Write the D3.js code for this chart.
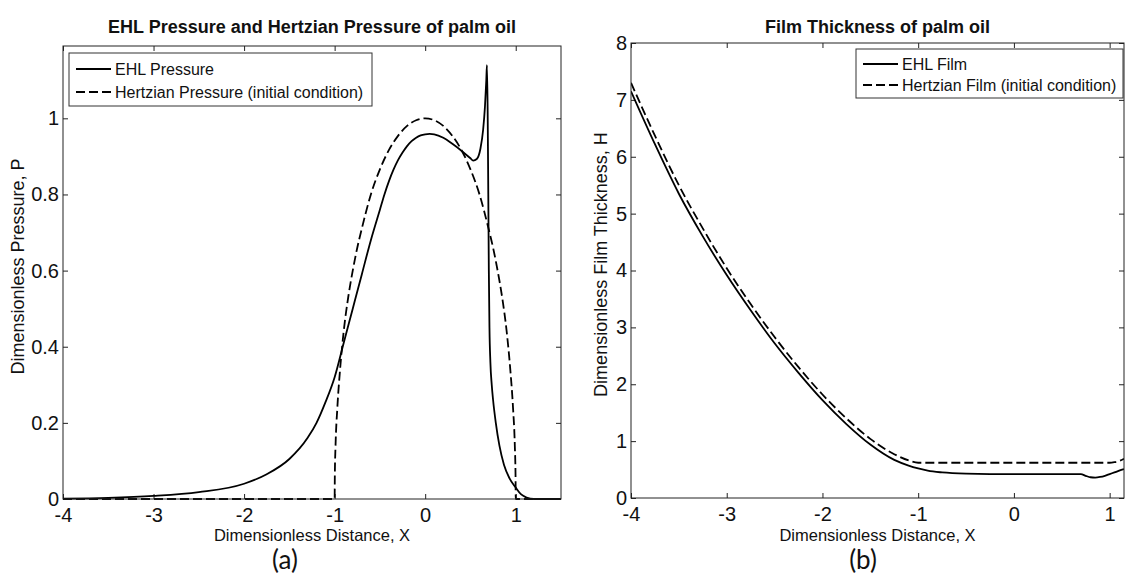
<!DOCTYPE html>
<html>
<head>
<meta charset="utf-8">
<script src="https://cdn.jsdelivr.net/npm/d3@7"></script>
<style>
  html, body { margin: 0; padding: 0; background: #fff; }
  svg { display: block; }
  text { font-family: "Liberation Sans", Arial, Helvetica, sans-serif; fill: #111; }
</style>
</head>
<body>
<div id="chart"></div>
<script>
// Data

// (a) pressure
const ehlPressureX = [-4, -3.5, -3, -2.5, -2, -1.75, -1.5, -1.3, -1.2, -1.1, -1.0, -0.9, -0.8, -0.7, -0.6, -0.5,
  -0.45, -0.4, -0.35, -0.3, -0.25, -0.2, -0.15, -0.1, -0.05, 0, 0.05, 0.1, 0.2, 0.3, 0.4, 0.5, 0.53, 0.57, 0.61,
  0.64, 0.66, 0.675, 0.682, 0.69, 0.697, 0.703, 0.71, 0.72, 0.735, 0.75, 0.78, 0.82, 0.87, 0.93, 1.0, 1.06, 1.12,
  1.2, 1.5];
const ehlPressure = [0.001, 0.003, 0.008, 0.018, 0.04, 0.065, 0.105, 0.16, 0.2, 0.255, 0.32, 0.41, 0.5, 0.59, 0.68,
  0.76, 0.8, 0.835, 0.865, 0.89, 0.91, 0.927, 0.94, 0.949, 0.955, 0.958, 0.959, 0.958, 0.949, 0.933, 0.915, 0.895,
  0.889, 0.893, 0.92, 0.97, 1.03, 1.1, 1.14, 1.02, 0.8, 0.6, 0.45, 0.36, 0.3, 0.26, 0.2, 0.14, 0.09, 0.055, 0.03,
  0.012, 0.004, 0, 0];

const hertzPressureX = [-4, -1, -0.998, -0.99, -0.97, -0.94, -0.9, -0.85, -0.8, -0.75, -0.7, -0.6, -0.5, -0.4,
  -0.3, -0.2, -0.1, 0, 0.1, 0.2, 0.3, 0.4, 0.5, 0.6, 0.7, 0.75, 0.8, 0.85, 0.9, 0.94, 0.97, 0.99, 0.998, 1, 1.5];
const hertzPressure = [0, 0, 0.06, 0.14, 0.24, 0.34, 0.44, 0.53, 0.6, 0.66, 0.71, 0.8, 0.866, 0.917, 0.954, 0.98,
  0.995, 1, 0.995, 0.98, 0.954, 0.917, 0.866, 0.8, 0.71, 0.66, 0.6, 0.53, 0.44, 0.34, 0.24, 0.14, 0.06, 0, 0];

// (b) film thickness
const ehlFilmX = [-4, -3.75, -3.5, -3.25, -3, -2.75, -2.5, -2.25, -2, -1.75, -1.5, -1.25, -1.1, -1.0, -0.9, -0.75,
  -0.5, 0, 0.5, 0.7, 0.75, 0.8, 0.85, 0.9, 0.95, 1.0, 1.05, 1.1, 1.15];
const ehlFilm = [7.15, 6.22, 5.35, 4.6, 3.92, 3.3, 2.72, 2.2, 1.72, 1.3, 0.94, 0.67, 0.57, 0.52, 0.48, 0.45,
  0.43, 0.42, 0.42, 0.42, 0.39, 0.365, 0.36, 0.37, 0.39, 0.42, 0.45, 0.48, 0.51];

const hertzFilmX = [-4, -3.75, -3.5, -3.25, -3, -2.75, -2.5, -2.25, -2, -1.75, -1.5, -1.25, -1.1, -1.0, 0, 1.0,
  1.05, 1.1, 1.15];
const hertzFilm = [7.3, 6.37, 5.5, 4.74, 4.04, 3.41, 2.83, 2.3, 1.82, 1.4, 1.04, 0.77, 0.66, 0.62, 0.62, 0.62,
  0.63, 0.65, 0.69];

// Ticks
const xTicks = [-4, -3, -2, -1, 0, 1];
const pressureTicks = [0, 0.2, 0.4, 0.6, 0.8, 1];
const filmTicks = [0, 1, 2, 3, 4, 5, 6, 7, 8];

// Dimensions
const dimensions = { width: 1125, height: 574 };

const svg = d3
  .select("#chart")
  .append("svg")
  .attr("width", dimensions.width)
  .attr("height", dimensions.height);

svg.append("rect").attr("width", dimensions.width).attr("height", dimensions.height).attr("fill", "#fff");

function drawPanel(cfg) {
  const xScale = d3.scaleLinear().domain(cfg.xDomain).range([cfg.left, cfg.right]);
  const yScale = d3.scaleLinear().domain(cfg.yDomain).range([cfg.bottom, cfg.top]);

  const g = svg.append("g");
  const clipId = "clip-" + cfg.id;
  g.append("clipPath")
    .attr("id", clipId)
    .append("rect")
    .attr("x", cfg.left)
    .attr("y", cfg.top - 10)
    .attr("width", cfg.right - cfg.left)
    .attr("height", cfg.bottom - cfg.top + 11);

  // Axes (ticks inward, on all four sides)
  const fmt = (d) => String(d);
  const tickStyle = (sel) => {
    sel.select(".domain").remove();
    sel.selectAll(".tick line").attr("stroke", "#222");
    sel.selectAll(".tick text").style("font-size", "20px").attr("fill", "#111");
  };

  g.append("g")
    .attr("transform", `translate(0, ${cfg.bottom})`)
    .call(d3.axisBottom(xScale).tickValues(xTicks).tickFormat(fmt).tickSizeInner(-5).tickSizeOuter(0).tickPadding(9))
    .call(tickStyle);
  g.append("g")
    .attr("transform", `translate(0, ${cfg.top})`)
    .call(d3.axisTop(xScale).tickValues(xTicks).tickFormat("").tickSizeInner(-5).tickSizeOuter(0))
    .call(tickStyle);
  g.append("g")
    .attr("transform", `translate(${cfg.left}, 0)`)
    .call(d3.axisLeft(yScale).tickValues(cfg.yTicks).tickFormat(fmt).tickSizeInner(-5).tickSizeOuter(0).tickPadding(4))
    .call(tickStyle);
  g.append("g")
    .attr("transform", `translate(${cfg.right}, 0)`)
    .call(d3.axisRight(yScale).tickValues(cfg.yTicks).tickFormat("").tickSizeInner(-5).tickSizeOuter(0))
    .call(tickStyle);

  // Curves
  const line = d3
    .line()
    .x((d) => xScale(d[0]))
    .y((d) => yScale(d[1]))
    .curve(d3.curveMonotoneX);

  const curves = g.append("g").attr("clip-path", `url(#${clipId})`);
  cfg.series.forEach((s) => {
    curves
      .append("path")
      .datum(s.x.map((x, i) => [x, s.y[i]]))
      .attr("d", line)
      .attr("fill", "none")
      .attr("stroke", "#000")
      .attr("stroke-width", 1.8)
      .attr("stroke-dasharray", s.dashed ? "9,4" : null)
      .attr("stroke-linejoin", "round");
  });

  // Box
  g.append("rect")
    .attr("x", cfg.left)
    .attr("y", cfg.top)
    .attr("width", cfg.right - cfg.left)
    .attr("height", cfg.bottom - cfg.top)
    .attr("fill", "none")
    .attr("stroke", "#222")
    .attr("stroke-width", 1);

  // Legend
  const lg = g.append("g");
  lg.append("rect")
    .attr("x", cfg.legend.x0)
    .attr("y", cfg.legend.y0)
    .attr("width", cfg.legend.x1 - cfg.legend.x0)
    .attr("height", cfg.legend.y1 - cfg.legend.y0)
    .attr("fill", "#fff")
    .attr("stroke", "#333")
    .attr("stroke-width", 1);
  cfg.series.forEach((s, i) => {
    const y = cfg.legend.y0 + cfg.legend.first + i * cfg.legend.step;
    lg.append("line")
      .attr("x1", cfg.legend.x0 + 7)
      .attr("x2", cfg.legend.x0 + 42)
      .attr("y1", y)
      .attr("y2", y)
      .attr("stroke", "#000")
      .attr("stroke-width", 1.8)
      .attr("stroke-dasharray", s.dashed ? "9,4" : null);
    lg.append("text")
      .attr("x", cfg.legend.x0 + 46)
      .attr("y", y)
      .attr("dy", "0.35em")
      .style("font-size", "16px")
      .text(s.name);
  });

  // Titles and labels
  const cx = (cfg.left + cfg.right) / 2;
  g.append("text")
    .attr("x", cx)
    .attr("y", 33)
    .attr("text-anchor", "middle")
    .style("font-size", "18px")
    .style("font-weight", "bold")
    .text(cfg.title);
  g.append("text")
    .attr("x", cx)
    .attr("y", 541)
    .attr("text-anchor", "middle")
    .style("font-size", "16.5px")
    .text("Dimensionless Distance, X");
  g.append("text")
    .attr("transform", `translate(${cfg.yLabelX}, ${(cfg.top + cfg.bottom) / 2 - 6}) rotate(-90)`)
    .attr("text-anchor", "middle")
    .style("font-size", "18px")
    .text(cfg.yLabel);
  g.append("text")
    .attr("x", cfg.captionX)
    .attr("y", 569)
    .attr("text-anchor", "middle")
    .style("font-family", "Lato, 'Open Sans', sans-serif")
    .style("font-size", "26px")
    .text(cfg.caption);
}

drawPanel({
  id: "a",
  left: 63,
  right: 561,
  top: 46,
  bottom: 499,
  xDomain: [-4, 1.5],
  yDomain: [0, 1.19],
  yTicks: pressureTicks,
  title: "EHL Pressure and Hertzian Pressure of palm oil",
  yLabel: "Dimensionless Pressure, P",
  yLabelX: 24,
  caption: "(a)",
  captionX: 285,
  legend: { x0: 69, x1: 372, y0: 53, y1: 106, first: 16, step: 23 },
  series: [
    { name: "EHL Pressure", x: ehlPressureX, y: ehlPressure, dashed: false },
    { name: "Hertzian Pressure (initial condition)", x: hertzPressureX, y: hertzPressure, dashed: true },
  ],
});

drawPanel({
  id: "b",
  left: 631,
  right: 1124,
  top: 43,
  bottom: 498,
  xDomain: [-4, 1.15],
  yDomain: [0, 8],
  yTicks: filmTicks,
  title: "Film Thickness of palm oil",
  yLabel: "Dimensionless Film Thickness, H",
  yLabelX: 607,
  caption: "(b)",
  captionX: 863,
  legend: { x0: 856, x1: 1123, y0: 49, y1: 98, first: 15, step: 21 },
  series: [
    { name: "EHL Film", x: ehlFilmX, y: ehlFilm, dashed: false },
    { name: "Hertzian Film (initial condition)", x: hertzFilmX, y: hertzFilm, dashed: true },
  ],
});
</script>
</body>
</html>
